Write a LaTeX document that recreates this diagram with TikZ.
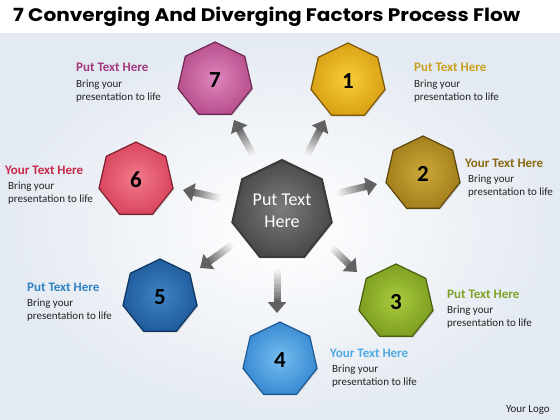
\documentclass[tikz,border=0pt]{standalone}
\usepackage{graphicx}
\usepackage{fontspec}
\setmainfont{Carlito}
\newfontfamily\titlefont{Poppins}
\usetikzlibrary{shapes.geometric,arrows.meta,calc,shadows}

\definecolor{bgedge}{HTML}{E4EAF2}
\definecolor{textgray}{HTML}{222222}
\definecolor{c7in}{HTML}{DE86BE}\definecolor{c7out}{HTML}{B9508E}\definecolor{c7bd}{HTML}{6E2A55}\definecolor{c7h}{HTML}{A3367F}
\definecolor{c1in}{HTML}{F8CD3C}\definecolor{c1out}{HTML}{D9A214}\definecolor{c1bd}{HTML}{7A5A0A}\definecolor{c1h}{HTML}{C9A01E}
\definecolor{c2in}{HTML}{CDA83A}\definecolor{c2out}{HTML}{A4801C}\definecolor{c2bd}{HTML}{5E4610}\definecolor{c2h}{HTML}{8B6914}
\definecolor{c3in}{HTML}{AACC3E}\definecolor{c3out}{HTML}{7E9E22}\definecolor{c3bd}{HTML}{4A600F}\definecolor{c3h}{HTML}{7EA024}
\definecolor{c4in}{HTML}{74BDF0}\definecolor{c4out}{HTML}{3A8BD2}\definecolor{c4bd}{HTML}{1D5A92}\definecolor{c4h}{HTML}{4FA9E2}
\definecolor{c5in}{HTML}{4084C6}\definecolor{c5out}{HTML}{1F5C9C}\definecolor{c5bd}{HTML}{0F3560}\definecolor{c5h}{HTML}{2F82C4}
\definecolor{c6in}{HTML}{F27A8C}\definecolor{c6out}{HTML}{D9475E}\definecolor{c6bd}{HTML}{7E2232}\definecolor{c6h}{HTML}{C8284A}
\definecolor{ccin}{HTML}{7C7C7C}\definecolor{ccout}{HTML}{4A4A4A}\definecolor{ccbd}{HTML}{3A3A3A}

\tikzset{
  hept/.style={regular polygon, regular polygon sides=7, inner sep=0pt,
    minimum size=76pt, font=\bfseries\fontsize{23}{23}\selectfont, text=black,
    line width=1.2pt, drop shadow={opacity=0.25,shadow xshift=1pt,shadow yshift=-1.5pt}},
  head/.style={anchor=base west, inner sep=0pt, font=\bfseries\fontsize{13}{13}\selectfont},
  body/.style={anchor=base west, inner sep=0pt, font=\fontsize{11}{11}\selectfont, text=textgray},
}

\newcommand{\gradarrow}[2]{%
  \foreach \i in {0,...,11}{%
    \pgfmathsetmacro{\c}{6+4.5*\i}%
    \pgfmathsetmacro{\fa}{\i*0.06}%
    \pgfmathsetmacro{\fb}{\i*0.06+0.08}%
    \draw[line width=7pt, black!\c] ($(#1)!\fa!(#2)$) -- ($(#1)!\fb!(#2)$);
  }%
  \draw[line width=7pt, black!62, -{Triangle[width=18pt,length=11pt]}] ($(#1)!0.7!(#2)$) -- (#2);
}

\begin{document}
\begin{tikzpicture}[x=1pt,y=-1pt]
\useasboundingbox (0,0) rectangle (560,420);
\fill[white] (0,0) rectangle (560,420);
\fill[inner color=white, outer color=bgedge] (0,34) rectangle (560,420);

% title
\node[anchor=base west, inner sep=0pt] (title) at (13,22)
  {\resizebox{507pt}{14.5pt}{\titlefont\bfseries 7 Converging And Diverging Factors Process Flow}};

% arrow end coordinates
\coordinate (t7) at (253,155); \coordinate (p7) at (234,120);
\coordinate (t1) at (307,155); \coordinate (p1) at (325,120);
\coordinate (t6) at (220,198); \coordinate (p6) at (183,190);
\coordinate (t5) at (232,245); \coordinate (p5) at (200,268);
\coordinate (t2) at (338,193); \coordinate (p2) at (377,184);
\coordinate (t3) at (332,248); \coordinate (p3) at (357,272);
\coordinate (t4) at (277,270); \coordinate (p4) at (277,313);

\gradarrow{t7}{p7}
\gradarrow{t1}{p1}
\gradarrow{t6}{p6}
\gradarrow{t5}{p5}
\gradarrow{t2}{p2}
\gradarrow{t3}{p3}
\gradarrow{t4}{p4}

% center
\node[hept, minimum size=102pt, inner color=ccin, outer color=ccout, draw=ccbd, line width=2pt,
  text=white, align=center, font=\fontsize{18}{22}\selectfont] (c) at (282,211) {Put Text\\Here};

% outer heptagons
\node[hept, inner color=c7in, outer color=c7out, draw=c7bd] (n7) at (215,80) {7};
\node[hept, inner color=c1in, outer color=c1out, draw=c1bd] (n1) at (348,81) {1};
\node[hept, inner color=c2in, outer color=c2out, draw=c2bd] (n2) at (423,174) {2};
\node[hept, inner color=c3in, outer color=c3out, draw=c3bd] (n3) at (396,302) {3};
\node[hept, inner color=c4in, outer color=c4out, draw=c4bd] (n4) at (280,360) {4};
\node[hept, inner color=c5in, outer color=c5out, draw=c5bd] (n5) at (160,297) {5};
\node[hept, inner color=c6in, outer color=c6out, draw=c6bd] (n6) at (136,180) {6};

% labels
\node[head, text=c7h] (h7) at (76,72) {Put Text Here};
\node[body] (b7a) at (76,87.5) {Bring your};
\node[body] (b7b) at (76,100.5) {presentation to life};

\node[head, text=c1h] (h1) at (414,72) {Put Text Here};
\node[body] (b1a) at (414,87.5) {Bring your};
\node[body] (b1b) at (414,100.5) {presentation to life};

\node[head, text=c6h] (h6) at (5,174) {Your Text Here};
\node[body] (b6a) at (8,189.5) {Bring your};
\node[body] (b6b) at (8,202.5) {presentation to life};

\node[head, text=c2h] (h2) at (465,167) {Your Text Here};
\node[body] (b2a) at (468,182.5) {Bring your};
\node[body] (b2b) at (468,195.5) {presentation to life};

\node[head, text=c5h] (h5) at (27,291) {Put Text Here};
\node[body] (b5a) at (27,306.5) {Bring your};
\node[body] (b5b) at (27,319.5) {presentation to life};

\node[head, text=c3h] (h3) at (447,298) {Put Text Here};
\node[body] (b3a) at (447,313.5) {Bring your};
\node[body] (b3b) at (447,326.5) {presentation to life};

\node[head, text=c4h] (h4) at (330,357) {Your Text Here};
\node[body] (b4a) at (332,372.5) {Bring your};
\node[body] (b4b) at (332,385.5) {presentation to life};

\node[anchor=base east, inner sep=0pt, font=\fontsize{11}{11}\selectfont, text=textgray] (logo) at (550,412) {Your Logo};
\end{tikzpicture}
\end{document}
